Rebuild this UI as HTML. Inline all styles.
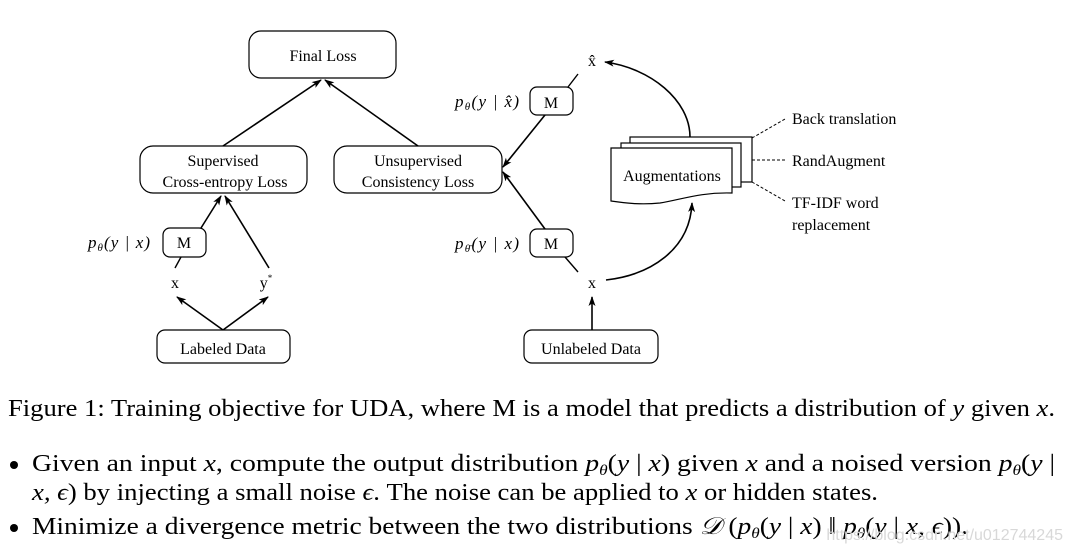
<!DOCTYPE html>
<html><head><meta charset="utf-8"><style>
html,body{margin:0;padding:0;background:#fff;width:1073px;height:554px;overflow:hidden}
svg{display:block}
text{font-family:"Liberation Serif",serif;fill:#000}
</style></head><body>
<svg width="1073" height="554" viewBox="0 0 1073 554" xmlns="http://www.w3.org/2000/svg">
<defs><marker id="a" markerWidth="10" markerHeight="8" refX="9" refY="4" orient="auto" markerUnits="userSpaceOnUse"><path d="M0,0.5 L10,4 L0,7.5 L2.5,4Z" fill="#000"/></marker></defs>
<g fill="none" stroke="#000" stroke-width="1.2">
<rect x="249" y="31" width="147" height="47" rx="12"/>
<rect x="140" y="146" width="167" height="47" rx="13"/>
<rect x="334" y="146" width="168" height="47" rx="13"/>
<rect x="163" y="228" width="43" height="29" rx="7"/>
<rect x="157" y="330" width="133" height="33" rx="8"/>
<rect x="530" y="87" width="43" height="28" rx="7"/>
<rect x="530" y="229" width="43" height="28" rx="7"/>
<rect x="524" y="330" width="134" height="33" rx="8"/>
</g>
<g stroke="#000" stroke-width="1.6" fill="none" marker-end="url(#a)">
<line x1="223" y1="146" x2="321" y2="80"/>
<line x1="418" y1="146" x2="325" y2="80"/>
<line x1="201" y1="228" x2="221" y2="196"/>
<line x1="269" y1="268" x2="225" y2="196"/>
<line x1="223" y1="330" x2="177" y2="297"/>
<line x1="223" y1="330" x2="268" y2="297"/>
<line x1="545" y1="115" x2="503" y2="167"/>
<line x1="545" y1="229" x2="503" y2="172"/>
<line x1="592" y1="330" x2="592" y2="297"/>
<path d="M690,137 C690,100 650,68 605,62"/>
<path d="M606,280 C650,275 690,250 692,203"/>
</g>
<g stroke="#000" stroke-width="1.4">
<line x1="181" y1="257" x2="175" y2="268"/>
<line x1="568" y1="87" x2="578" y2="74"/>
<line x1="565" y1="257" x2="578" y2="272"/>
</g>
<g stroke="#000" stroke-width="1.2" fill="#fff">
<rect x="630" y="137" width="122" height="45"/>
<rect x="621" y="143" width="120" height="44"/>
<path d="M611,148 H732 V193 C700,192 680,200 660,203 C640,205 625,203 611,201 Z"/>
</g>
<g stroke="#000" stroke-width="1" stroke-dasharray="3,2">
<line x1="752" y1="138" x2="785" y2="119"/>
<line x1="752" y1="160" x2="785" y2="160"/>
<line x1="752" y1="182" x2="785" y2="201"/>
</g>
<g font-size="16" text-anchor="middle">
<text x="323" y="61">Final Loss</text>
<text x="223" y="166">Supervised</text>
<text x="225" y="187">Cross-entropy Loss</text>
<text x="418" y="166">Unsupervised</text>
<text x="418" y="187">Consistency Loss</text>
<text x="184" y="248">M</text>
<text x="551" y="108">M</text>
<text x="551" y="249">M</text>
<text x="175" y="288">x</text>
<text x="266" y="288">y<tspan font-size="9" dy="-7">*</tspan></text>
<text x="592" y="288">x</text>
<text x="592" y="66">x̂</text>
<text x="223" y="354">Labeled Data</text>
<text x="591" y="354">Unlabeled Data</text>
<text x="672" y="181">Augmentations</text>
</g>
<g font-size="17">
<text x="88" y="248" font-style="italic" textLength="62" lengthAdjust="spacing">p<tspan font-size="11" dy="3">θ</tspan><tspan dy="-3">(y | x)</tspan></text>
<text x="455" y="107" font-style="italic" textLength="64" lengthAdjust="spacing">p<tspan font-size="11" dy="3">θ</tspan><tspan dy="-3">(y | x̂)</tspan></text>
<text x="455" y="249" font-style="italic" textLength="64" lengthAdjust="spacing">p<tspan font-size="11" dy="3">θ̄</tspan><tspan dy="-3">(y | x)</tspan></text>
</g>
<g font-size="16">
<text x="792" y="124">Back translation</text>
<text x="792" y="166">RandAugment</text>
<text x="792" y="208">TF-IDF word</text>
<text x="792" y="230">replacement</text>
</g>
<g font-size="24">
<text x="8" y="416" textLength="1047" lengthAdjust="spacingAndGlyphs">Figure 1: Training objective for UDA, where M is a model that predicts a distribution of <tspan font-style="italic">y</tspan> given <tspan font-style="italic">x</tspan>.</text>
<circle cx="14" cy="465" r="4" fill="#000"/>
<text x="32" y="471" textLength="1023" lengthAdjust="spacingAndGlyphs">Given an input <tspan font-style="italic">x</tspan>, compute the output distribution <tspan font-style="italic">p</tspan><tspan font-size="15" dy="4" font-style="italic">θ</tspan><tspan dy="-4">(<tspan font-style="italic">y</tspan> | <tspan font-style="italic">x</tspan>) given <tspan font-style="italic">x</tspan> and a noised version <tspan font-style="italic">p</tspan></tspan><tspan font-size="15" dy="4" font-style="italic">θ</tspan><tspan dy="-4">(<tspan font-style="italic">y</tspan> |</tspan></text>
<text x="32" y="500" textLength="846" lengthAdjust="spacingAndGlyphs"><tspan font-style="italic">x, ϵ</tspan>) by injecting a small noise <tspan font-style="italic">ϵ</tspan>. The noise can be applied to <tspan font-style="italic">x</tspan> or hidden states.</text>
<circle cx="14" cy="528" r="4" fill="#000"/>
<text x="32" y="534" textLength="936" lengthAdjust="spacingAndGlyphs">Minimize a divergence metric between the two distributions <tspan font-style="italic">𝒟</tspan> (<tspan font-style="italic">p</tspan><tspan font-size="15" dy="4" font-style="italic">θ</tspan><tspan dy="-4">(<tspan font-style="italic">y</tspan> | <tspan font-style="italic">x</tspan>) ‖ <tspan font-style="italic">p</tspan></tspan><tspan font-size="15" dy="4" font-style="italic">θ</tspan><tspan dy="-4">(<tspan font-style="italic">y</tspan> | <tspan font-style="italic">x, ϵ</tspan>)).</tspan></text>
</g>
<text x="1063" y="540" font-size="16" text-anchor="end" style="fill:#d8d8d8;font-family:'Liberation Sans',sans-serif">https://blog.csdn.net/u012744245</text>
</svg>
</body></html>
